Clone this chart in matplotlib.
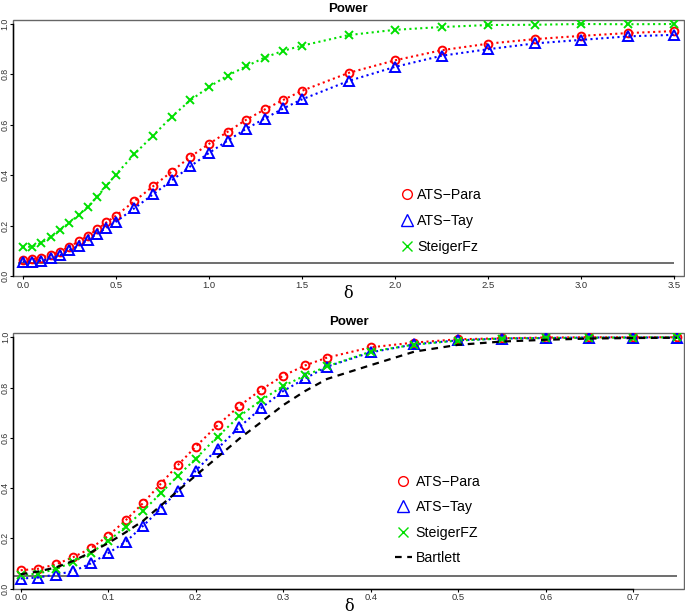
import matplotlib
matplotlib.use("Agg")
from matplotlib import pyplot as plt
from matplotlib.lines import Line2D

# top panel: power over delta
delta_top = [0.0, 0.05, 0.1, 0.15, 0.2, 0.25, 0.3, 0.35, 0.4, 0.45, 0.5, 0.6, 0.7, 0.8,
             0.9, 1.0, 1.1, 1.2, 1.3, 1.4, 1.5, 1.75, 2.0, 2.25, 2.5, 2.75, 3.0, 3.25, 3.5]
para_top = [0.065, 0.066, 0.073, 0.082, 0.097, 0.116, 0.137, 0.160, 0.185, 0.213, 0.239,
            0.297, 0.356, 0.414, 0.473, 0.524, 0.572, 0.620, 0.661, 0.699, 0.735, 0.806,
            0.856, 0.896, 0.922, 0.940, 0.953, 0.964, 0.972]
tay_top = [0.057, 0.057, 0.061, 0.070, 0.082, 0.102, 0.120, 0.144, 0.168, 0.191, 0.215,
           0.269, 0.324, 0.379, 0.435, 0.488, 0.537, 0.584, 0.625, 0.665, 0.701, 0.774,
           0.830, 0.874, 0.900, 0.923, 0.937, 0.951, 0.957]
steiger_top = [0.116, 0.116, 0.132, 0.154, 0.182, 0.211, 0.242, 0.275, 0.314, 0.359, 0.402,
               0.484, 0.557, 0.632, 0.697, 0.750, 0.795, 0.832, 0.867, 0.894, 0.914, 0.956,
               0.977, 0.988, 0.996, 0.997, 1.0, 0.999, 1.0]

# bottom panel
delta_bot = [0.0, 0.02, 0.04, 0.06, 0.08, 0.1, 0.12, 0.14, 0.16, 0.18, 0.2, 0.225, 0.25,
             0.275, 0.3, 0.325, 0.35, 0.4, 0.45, 0.5, 0.55, 0.6, 0.65, 0.7, 0.75]
para_bot = [0.073, 0.079, 0.096, 0.125, 0.160, 0.210, 0.272, 0.341, 0.417, 0.493, 0.565,
            0.650, 0.727, 0.792, 0.847, 0.888, 0.919, 0.960, 0.979, 0.992, 0.996, 0.999,
            1.0, 1.0, 1.0]
tay_bot = [0.040, 0.044, 0.056, 0.069, 0.100, 0.141, 0.186, 0.250, 0.318, 0.390, 0.469,
           0.557, 0.643, 0.719, 0.786, 0.836, 0.883, 0.940, 0.972, 0.988, 0.995, 0.997,
           0.999, 0.999, 0.999]
steiger_bot = [0.053, 0.060, 0.077, 0.107, 0.141, 0.189, 0.246, 0.310, 0.379, 0.450, 0.517,
               0.605, 0.686, 0.750, 0.806, 0.848, 0.884, 0.943, 0.971, 0.987, 0.995, 0.997,
               0.998, 0.999, 1.0]
bartlett_bot = [0.057, 0.068, 0.084, 0.110, 0.144, 0.181, 0.224, 0.270, 0.330, 0.390, 0.450,
                0.523, 0.597, 0.663, 0.730, 0.786, 0.834, 0.889, 0.943, 0.970, 0.983, 0.990,
                0.995, 0.997, 0.998]

alpha = 0.05
RED, BLUE, GREEN = "#FF0000", "#0000FF", "#00E000"
DOT = (0, (1, 1.6))

plt.rcParams["font.family"] = ["Liberation Sans", "DejaVu Sans"]

fig = plt.figure(figsize=(6.85, 6.14), dpi=100)
W, H = 685, 614


def style_axes(ax, xticks, yticks):
    # R-like: grey box, black axis lines only between first and last tick
    ax.patch.set_edgecolor("#666666")
    ax.patch.set_linewidth(1.0)
    ax.spines["top"].set_visible(False)
    ax.spines["right"].set_visible(False)
    for side in ("left", "bottom"):
        ax.spines[side].set_color("black")
        ax.spines[side].set_linewidth(1.0)
    ax.spines["bottom"].set_bounds(xticks[0], xticks[-1])
    ax.spines["left"].set_bounds(yticks[0], yticks[-1])
    ax.set_xticks(xticks)
    ax.set_yticks(yticks)
    ax.set_xticklabels([f"{t:.1f}" for t in xticks])
    ax.set_yticklabels([f"{t:.1f}" for t in yticks], rotation=90, va="center")
    ax.tick_params(axis="x", direction="out", length=2.3, width=0.8, labelsize=6.8,
                   labelcolor="#333333", pad=1.2)
    ax.tick_params(axis="y", direction="out", length=2.0, width=0.8, labelsize=6.3,
                   labelcolor="#333333", pad=0.3)
    ax.set_title("Power", fontsize=9.5, fontweight="bold", pad=5.8)
    ax.set_xlabel("δ", fontsize=11.5, family="DejaVu Serif", labelpad=-3.5)


# top panel
ax1 = fig.add_axes([12.7 / W, (H - 276) / H, (684 - 12.7) / W, 256 / H])
ax1.set_xlim(-0.0537, 3.5516)
ax1.set_ylim(0, 1.0159)
ax1.hlines(alpha, -0.025, delta_top[-1], color="#555555", lw=1.2)
ax1.plot(delta_top, para_top, color=RED, ls=DOT, lw=1.5, marker="o", ms=5.6,
         mfc="none", mew=1.4)
ax1.plot(delta_top, tay_top, color=BLUE, ls=DOT, lw=1.5, marker="^", ms=6.5,
         mfc="none", mew=1.4)
ax1.plot(delta_top, steiger_top, color=GREEN, ls=DOT, lw=1.5, marker="x", ms=5.6,
         mew=1.4)
style_axes(ax1, [0.0, 0.5, 1.0, 1.5, 2.0, 2.5, 3.0, 3.5], [0.0, 0.2, 0.4, 0.6, 0.8, 1.0])

handles1 = [
    Line2D([], [], color=RED, ls="none", marker="o", ms=7, mfc="none", mew=1.0),
    Line2D([], [], color=BLUE, ls="none", marker="^", ms=8, mfc="none", mew=1.0),
    Line2D([], [], color=GREEN, ls="none", marker="x", ms=7, mew=1.0),
]
ax1.legend(handles1, ["ATS\u2212Para", "ATS\u2212Tay", "SteigerFz"], loc="center left",
           bbox_to_anchor=(0.574, 0.215), frameon=False, fontsize=10.2,
           handlelength=1.2, handletextpad=0.15, labelspacing=0.87, borderpad=0,
           borderaxespad=0)

# bottom panel
ax2 = fig.add_axes([13.3 / W, (H - 588.6) / H, (684 - 13.3) / W, 255.6 / H])
ax2.set_xlim(-0.00846, 0.758)
ax2.set_ylim(0, 1.017)
ax2.hlines(alpha, -0.008, delta_bot[-1], color="#555555", lw=1.2)
ax2.plot(delta_bot, para_bot, color=RED, ls=DOT, lw=1.5, marker="o", ms=5.6,
         mfc="none", mew=1.4)
ax2.plot(delta_bot, tay_bot, color=BLUE, ls=DOT, lw=1.5, marker="^", ms=6.5,
         mfc="none", mew=1.4)
ax2.plot(delta_bot, steiger_bot, color=GREEN, ls=DOT, lw=1.5, marker="x", ms=5.6,
         mew=1.4)
ax2.plot(delta_bot, bartlett_bot, color="black", ls=(0, (3, 2.5)), lw=1.6)
style_axes(ax2, [0.0, 0.1, 0.2, 0.3, 0.4, 0.5, 0.6, 0.7], [0.0, 0.2, 0.4, 0.6, 0.8, 1.0])

handles2 = handles1 + [Line2D([], [], color="black", ls=(0, (3, 2.5)), lw=1.6)]
ax2.legend(handles2, ["ATS\u2212Para", "ATS\u2212Tay", "SteigerFZ", "Bartlett"],
           loc="center left", bbox_to_anchor=(0.569, 0.269), frameon=False,
           fontsize=10.2, handlelength=1.2, handletextpad=0.25, labelspacing=0.8,
           borderpad=0, borderaxespad=0)

fig.savefig("out.png", dpi=100)
